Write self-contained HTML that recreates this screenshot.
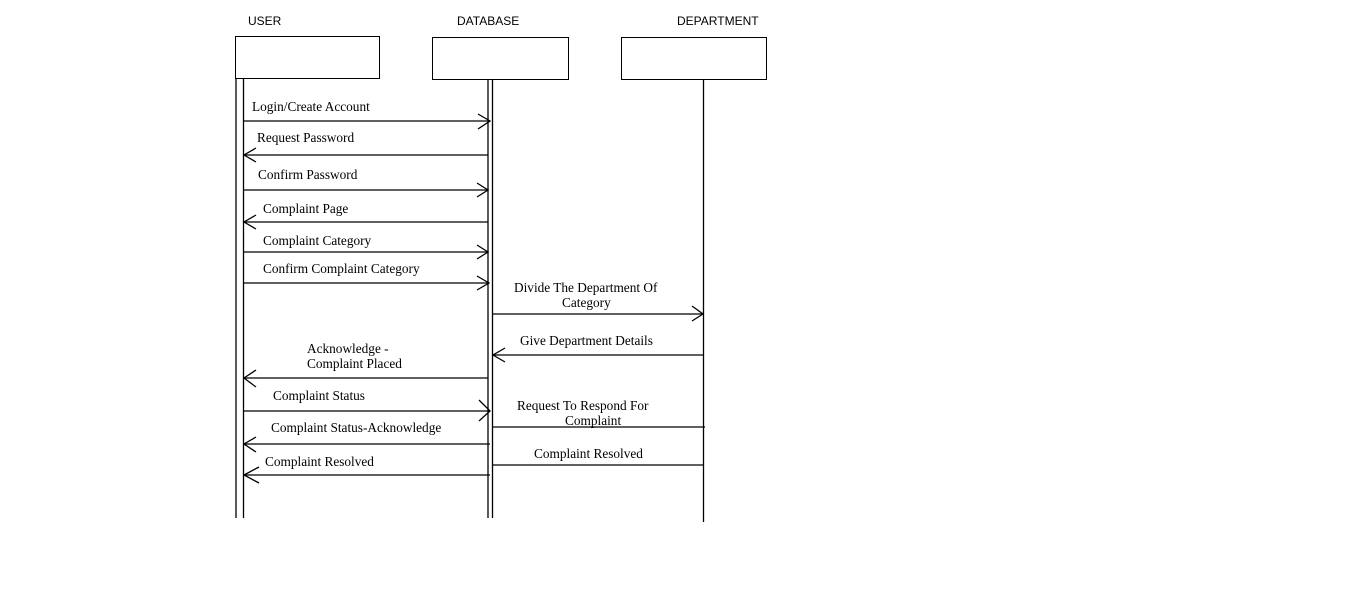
<!DOCTYPE html>
<html><head><style>body{margin:0;background:#fff}svg{display:block}</style></head><body>
<svg width="1360" height="601" xmlns="http://www.w3.org/2000/svg">
<g font-family="Liberation Sans, sans-serif" font-size="12" fill="#000">
<text x="248" y="25">USER</text>
<text x="457" y="25">DATABASE</text>
<text x="677" y="25">DEPARTMENT</text>
</g>
<g fill="#fff" stroke="#000" stroke-width="1">
<rect x="235.5" y="36.5" width="144" height="42"/>
<rect x="432.5" y="37.5" width="136" height="42"/>
<rect x="621.5" y="37.5" width="145" height="42"/>
</g>
<g stroke="#000" stroke-width="1.3" fill="none">
<line x1="236" y1="79" x2="236" y2="518"/>
<line x1="243.5" y1="79" x2="243.5" y2="518"/>
<line x1="488" y1="80" x2="488" y2="518"/>
<line x1="492.5" y1="80" x2="492.5" y2="518"/>
<line x1="703.5" y1="80" x2="703.5" y2="522"/>
<line x1="244" y1="121" x2="490" y2="121"/><polyline points="478,114 490,121 478,129"/>
<line x1="244" y1="155" x2="488" y2="155"/><polyline points="256,148 244,155 256,162"/>
<line x1="244" y1="190" x2="488" y2="190"/><polyline points="477,183 488,190 477,197"/>
<line x1="244" y1="222" x2="488" y2="222"/><polyline points="256,215 244,222 256,229"/>
<line x1="244" y1="252" x2="488" y2="252"/><polyline points="477,245 488,252 477,259"/>
<line x1="244" y1="283" x2="489" y2="283"/><polyline points="477,276 489,283 477,290"/>
<line x1="493" y1="314" x2="703" y2="314"/><polyline points="692,306 703,314 692,321"/>
<line x1="493" y1="355" x2="703" y2="355"/><polyline points="505,348 493,355 505,362"/>
<line x1="244" y1="378" x2="488" y2="378"/><polyline points="256,370 244,378 256,387"/>
<line x1="244" y1="411" x2="490" y2="411"/><polyline points="479,400 490,411 479,421"/>
<line x1="493" y1="427" x2="705" y2="427"/>
<line x1="244" y1="444" x2="490" y2="444"/><polyline points="256,437 244,444 256,452"/>
<line x1="493" y1="465" x2="703" y2="465"/>
<line x1="244" y1="475" x2="490" y2="475"/><polyline points="259,467 244,475 259,483"/>
</g>
<g font-family="Liberation Serif, serif" font-size="13.3" fill="#000">
<text x="252" y="111">Login/Create Account</text>
<text x="257" y="142">Request Password</text>
<text x="258" y="179">Confirm Password</text>
<text x="263" y="213">Complaint Page</text>
<text x="263" y="245">Complaint Category</text>
<text x="263" y="273">Confirm Complaint Category</text>
<text x="514" y="292">Divide The Department Of</text>
<text x="562" y="307">Category</text>
<text x="520" y="345">Give Department Details</text>
<text x="307" y="353">Acknowledge -</text>
<text x="307" y="368">Complaint Placed</text>
<text x="273" y="400">Complaint Status</text>
<text x="517" y="410">Request To Respond For</text>
<text x="565" y="425">Complaint</text>
<text x="271" y="432">Complaint Status-Acknowledge</text>
<text x="534" y="458">Complaint Resolved</text>
<text x="265" y="466">Complaint Resolved</text>
</g>
</svg>
</body></html>
